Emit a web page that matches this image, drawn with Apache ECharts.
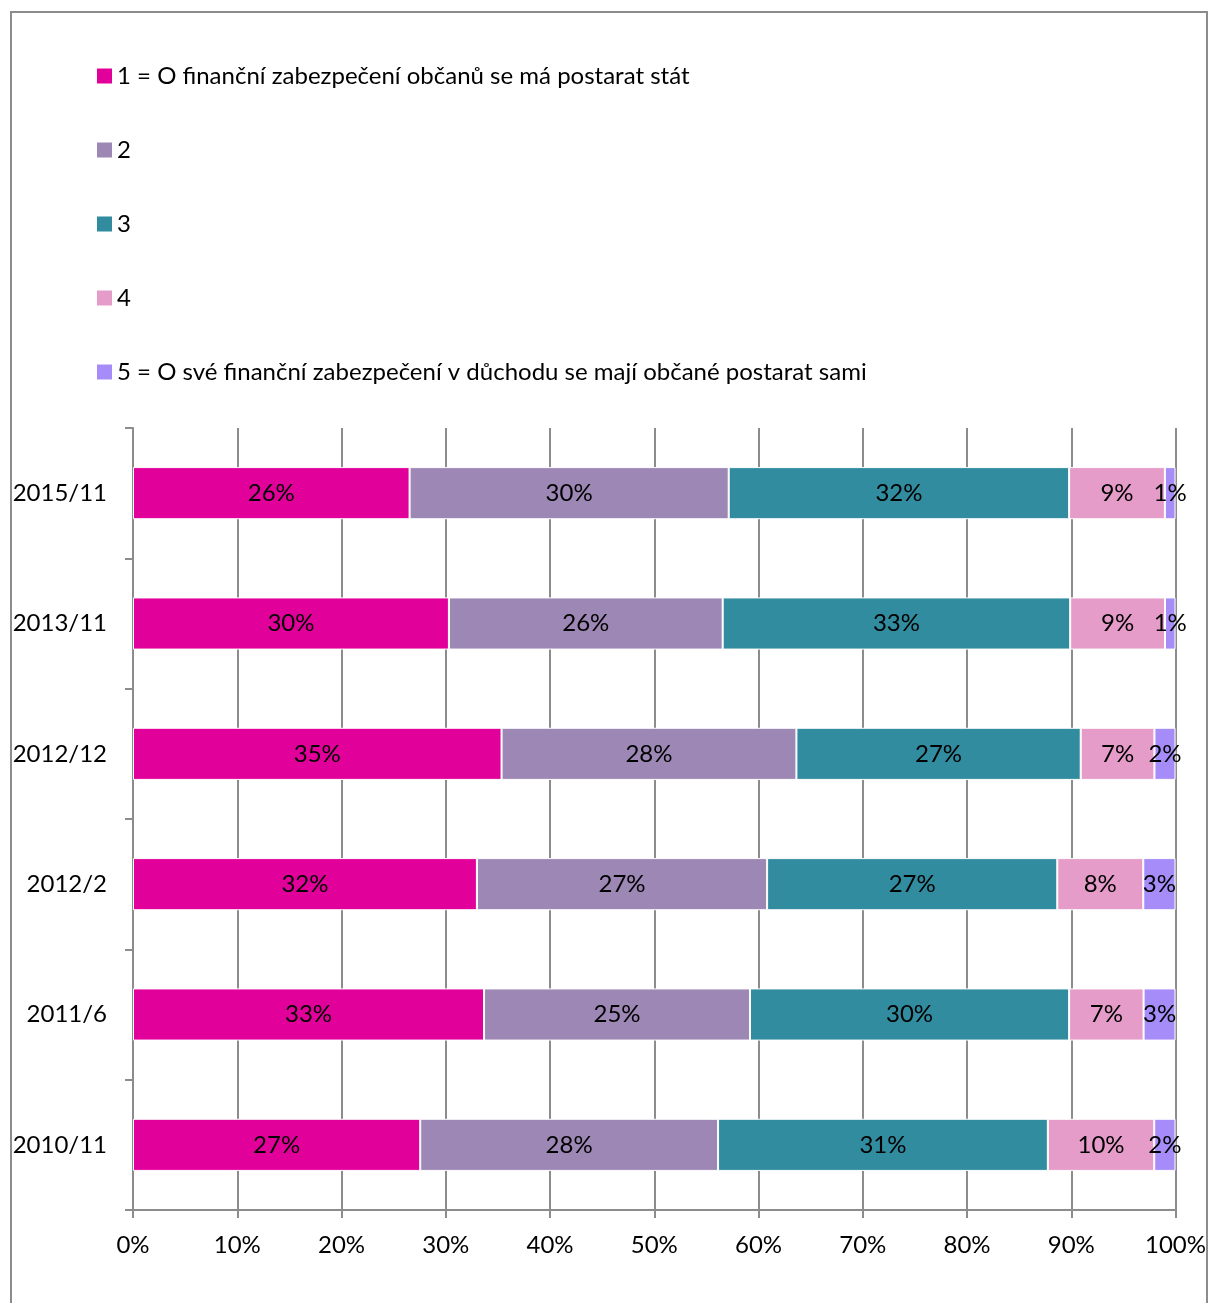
<!DOCTYPE html>
<html>
<head>
<meta charset="utf-8">
<script src="https://cdn.jsdelivr.net/npm/echarts@6/dist/echarts.min.js"></script>
<style>
  html, body { margin: 0; padding: 0; background: #fff; }
  #chart { width: 1209px; height: 1303px; }
</style>
</head>
<body>
<div id="chart"></div>
<script>
// kategorie shora dolů
const categories = ["2015/11", "2013/11", "2012/12", "2012/2", "2011/6", "2010/11"];
const seriesNames = [
  "1 = O finanční zabezpečení občanů se má postarat stát",
  "2",
  "3",
  "4",
  "5 = O své finanční zabezpečení v důchodu se mají občané postarat sami"
];
// hodnoty v procentech (bez "neví"), graf je 100% skládaný
const s1 = [26, 30, 35, 32, 33, 27];
const s2 = [30, 26, 28, 27, 25, 28];
const s3 = [32, 33, 27, 27, 30, 31];
const s4 = [9, 9, 7, 8, 7, 10];
const s5 = [1, 1, 2, 3, 3, 2];
const colors = ["#E2009B", "#9D87B5", "#318C9F", "#E59CC9", "#A58CF9"];

const raw = [s1, s2, s3, s4, s5];
const totals = categories.map((c, i) => raw.reduce((a, s) => a + s[i], 0));

const font = "Lato, 'Open Sans', sans-serif";
const grey = "#8c8c8c";
const fs = 24;

let myChart = echarts.init(document.getElementById("chart"));
myChart.setOption({
  animation: false,
  textStyle: { fontFamily: font },
  grid: { left: 133, right: 33, top: 428, bottom: 93 },
  legend: {
    orient: "vertical",
    left: 97,
    top: 63,
    padding: 0,
    itemWidth: 15,
    itemHeight: 15,
    itemGap: 48,
    icon: "rect",
    selectedMode: false,
    itemStyle: { borderWidth: 0 },
    data: seriesNames,
    textStyle: { fontSize: fs, color: "#000", fontFamily: font, lineHeight: 26 }
  },
  graphic: [
    {
      type: "rect",
      shape: { x: 11, y: 12, width: 1196, height: 1300 },
      style: { fill: "none", stroke: grey, lineWidth: 2 },
      silent: true
    }
  ],
  xAxis: {
    type: "value",
    min: 0,
    max: 1,
    interval: 0.1,
    axisLine: { show: true, lineStyle: { color: grey, width: 2 } },
    axisTick: { show: true, length: 8, lineStyle: { color: grey, width: 2 } },
    splitLine: { show: true, lineStyle: { color: grey, width: 2 } },
    axisLabel: {
      margin: 23,
      fontSize: fs,
      color: "#000",
      fontFamily: font,
      formatter: v => Math.round(v * 100) + "%"
    }
  },
  yAxis: {
    type: "category",
    inverse: true,
    data: categories,
    axisLine: { show: true, lineStyle: { color: grey, width: 2 } },
    axisTick: { show: true, length: 8, lineStyle: { color: grey, width: 2 } },
    splitLine: { show: false },
    axisLabel: { margin: 26, fontSize: fs, color: "#000", fontFamily: font }
  },
  series: raw.map((s, k) => ({
    name: seriesNames[k],
    type: "bar",
    stack: "total",
    barWidth: "40%",
    color: colors[k],
    itemStyle: { borderColor: "#fff", borderWidth: 1 },
    label: {
      show: true,
      position: "inside",
      fontSize: fs,
      color: "#000",
      fontFamily: font,
      formatter: p => raw[k][p.dataIndex] + "%"
    },
    data: s.map((v, i) => v / totals[i])
  }))
});
</script>
</body>
</html>
